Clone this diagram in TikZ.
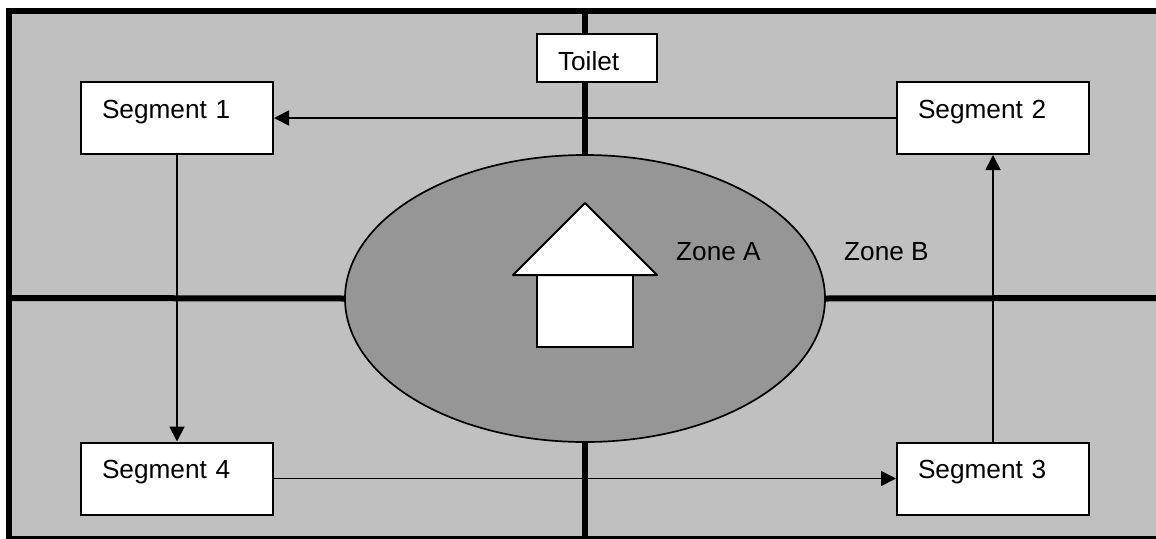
\documentclass[tikz,border=0pt]{standalone}
\usepackage{fontspec}
\setmainfont{Liberation Sans}
\usetikzlibrary{arrows.meta,shapes.geometric}
\definecolor{fieldgray}{RGB}{192,192,192}
\definecolor{zonegray}{RGB}{150,150,150}
\tikzset{
  lbl/.style={font=\fontsize{26.2}{28}\selectfont},
  box/.style={draw, fill=white, line width=2pt, lbl, inner sep=0pt, inner xsep=21pt, align=left, text height=36pt},
  segbox/.style={box, text width=150pt, text depth=36pt},
  wall/.style={line width=6pt},
  flow/.style={line width=1.8pt, -{Triangle[length=15pt,width=15pt]}},
  zonelbl/.style={lbl, inner sep=0pt, anchor=base west}
}
\begin{document}
\begin{tikzpicture}[x=1pt,y=-1pt]
  \useasboundingbox (0,0) rectangle (1156,538);
  \clip (0,0) rectangle (1156,538);

  \fill[fieldgray] (8,10) rectangle (1156,538);
  \draw[wall] (1160,10.5) -- (8.75,10.5) -- (8.75,539) -- (1160,539);

  \coordinate (walltop) at (585,10.5);
  \coordinate (wallbot) at (585,539);
  \coordinate (wallleft) at (8.75,298);
  \coordinate (wallright) at (1156,298);

  \node[draw, fill=zonegray, ellipse, line width=1.7pt, minimum width=480pt, minimum height=287pt, inner sep=0pt] (zonea) at (585,298.5) {};
  \draw[wall] (walltop) -- (zonea.north);
  \draw[wall] (zonea.south) -- (wallbot);
  \draw[wall] (wallleft) -- (zonea.west);
  \draw[wall] (zonea.east) -- (wallright);

  \node[segbox] (seg1) at (177,118) {Segment 1};
  \node[segbox] (seg2) at (993,118) {Segment 2};
  \node[segbox] (seg3) at (993,478.5) {Segment 3};
  \node[segbox] (seg4) at (177,478.5) {Segment 4};
  \node[box, text width=78pt, text depth=12pt] (toilet) at (597,58) {Toilet};

  \draw[flow] (seg2.west) -- (seg1.east);
  \draw[flow] (seg1.south) -- (seg4.north);
  \draw[flow] (seg4.east) -- (seg3.west);
  \draw[flow] (seg3.north) -- (seg2.south);

  \node[draw, fill=white, line width=2pt, minimum width=96pt, minimum height=72pt, inner sep=0pt] (body) at (585,311) {};
  \draw[fill=white, line width=2pt, line join=round] (585,203) -- (657,275) -- (513,275) -- cycle;

  \node[zonelbl] (zonealbl) at (676,260) {Zone A};
  \node[zonelbl] (zoneblbl) at (844,260) {Zone B};
\end{tikzpicture}
\end{document}
